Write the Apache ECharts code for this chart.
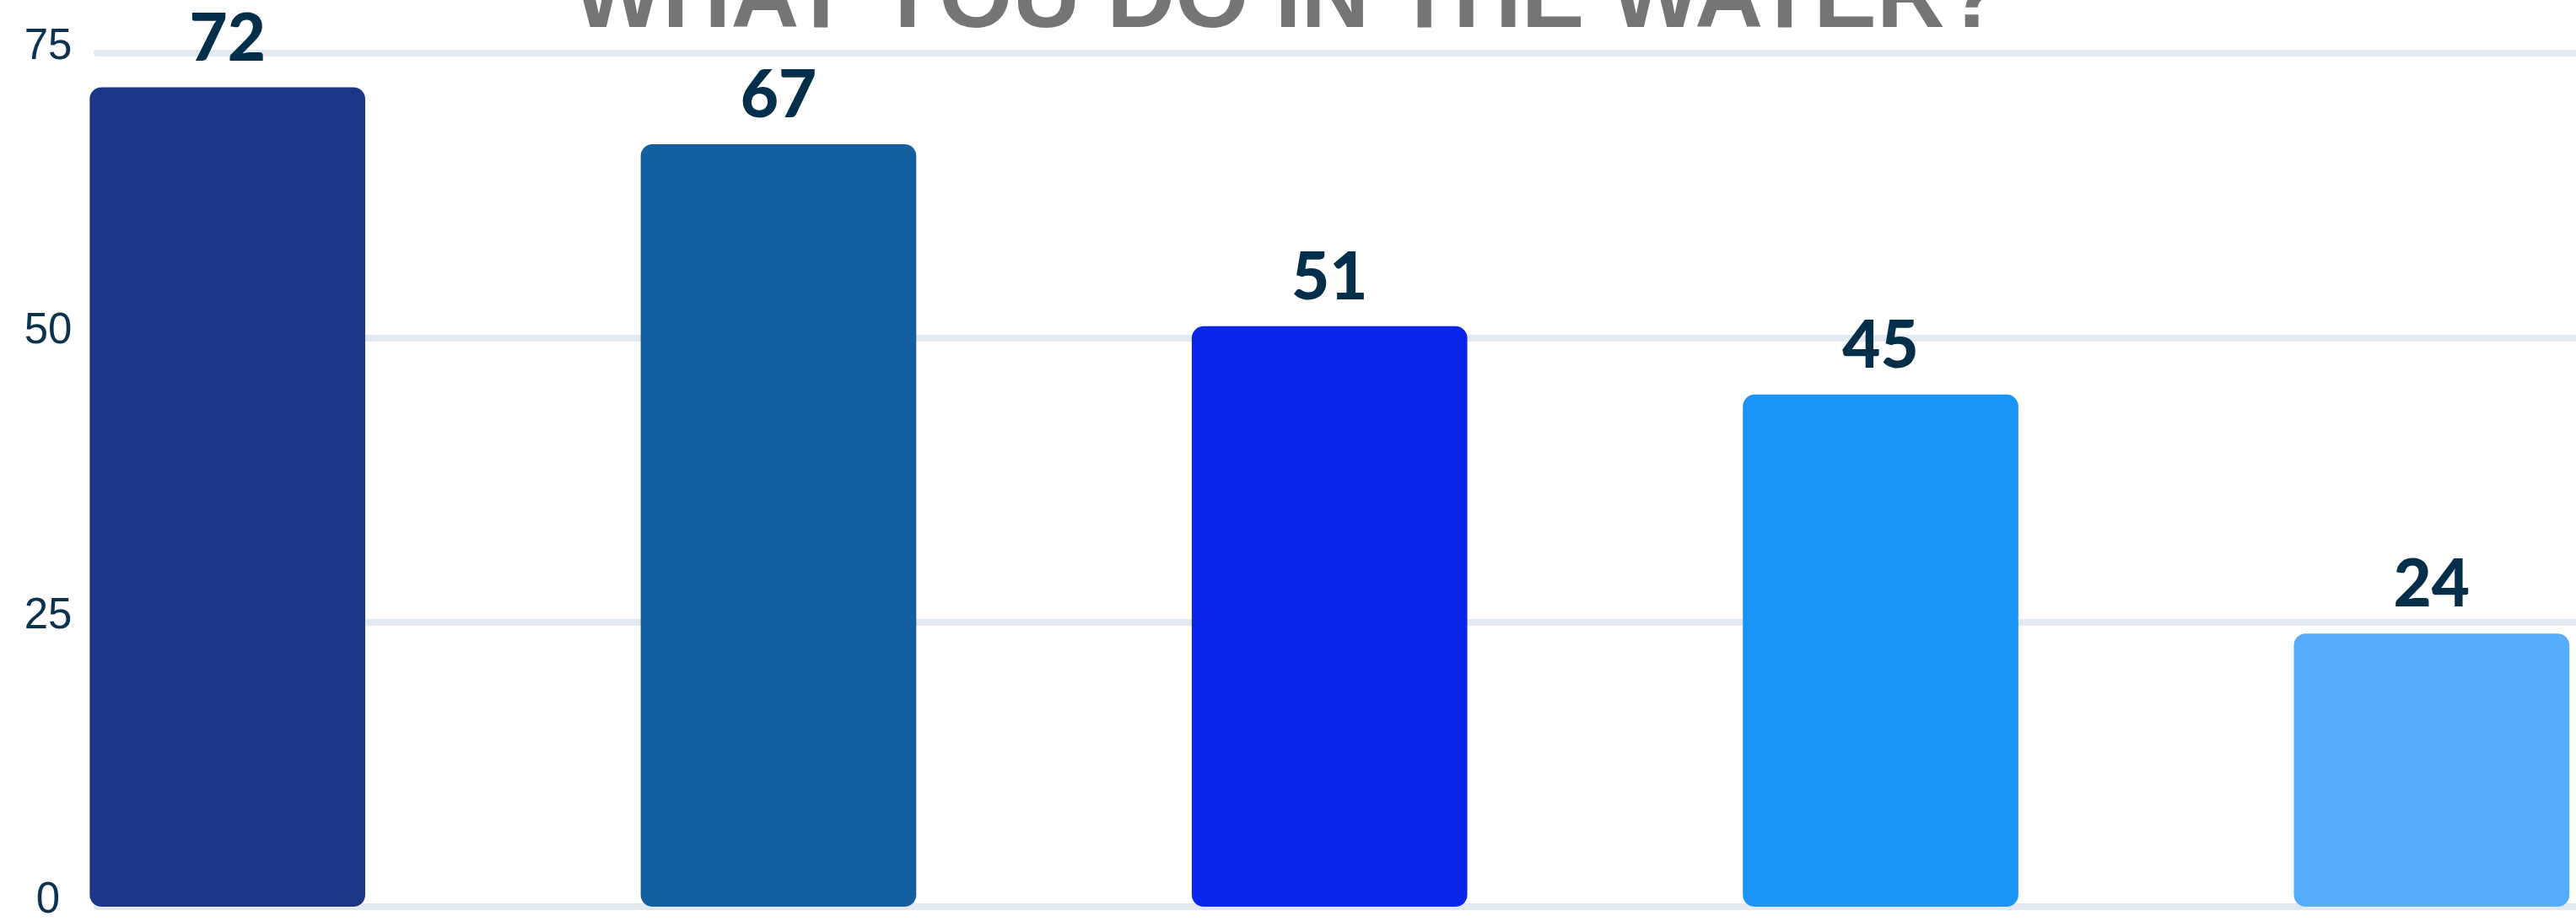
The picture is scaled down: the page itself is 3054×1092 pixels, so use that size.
<!DOCTYPE html>
<html>
<head>
<meta charset="utf-8">
<script src="https://cdn.jsdelivr.net/npm/echarts@6/dist/echarts.min.js"></script>
<style>
html,body{margin:0;padding:0;background:#fff;}
#chart{width:3054px;height:1092px;}
</style>
</head>
<body>
<div id="chart"></div>
<script>
const titleText = 'WHAT YOU DO IN THE WATER?';
const categories = ['Activity 1', 'Activity 2', 'Activity 3', 'Activity 4', 'Activity 5'];
const values = [72, 67, 51, 45, 24];
const barColors = ['#1c3687', '#155ea0', '#0b26eb', '#1a94f7', '#55adfb'];
const yTicks = [0, 25, 50, 75];

const chart = echarts.init(document.getElementById('chart'));
const yMin = yTicks[0], yMax = yTicks[yTicks.length - 1], yStep = yTicks[1] - yTicks[0];

chart.setOption({
  backgroundColor: '#ffffff',
  animation: false,
  title: {
    text: titleText,
    left: 'center',
    top: -55,
    padding: [0, 0, 0, 22],
    textStyle: {
      fontFamily: 'Liberation Sans, Arial, sans-serif',
      fontWeight: 'bold',
      fontSize: 112,
      lineHeight: 112,
      color: '#757575'
    }
  },
  grid: [
    { left: 115, right: -20, top: 63, bottom: 17, containLabel: false, outerBoundsMode: 'none' },
    { left: -57, width: 3266.5, top: 63, bottom: 17, containLabel: false, outerBoundsMode: 'none' }
  ],
  xAxis: [
    { type: 'category', gridIndex: 0, data: categories, show: false },
    { type: 'category', gridIndex: 1, data: categories, show: false }
  ],
  yAxis: [
    {
      type: 'value', gridIndex: 0, min: yMin, max: yMax, interval: yStep,
      axisLine: { show: false }, axisTick: { show: false },
      axisLabel: {
        margin: 58, align: 'center',
        verticalAlign: 'bottom', lineHeight: 14,
        fontFamily: 'Liberation Sans, Arial, sans-serif',
        fontSize: 51, color: '#0b3350'
      },
      splitLine: { show: true, lineStyle: { color: '#e2e9f1', width: 8, cap: 'round' } }
    },
    {
      type: 'value', gridIndex: 1, min: yMin, max: yMax, interval: yStep,
      show: false, splitLine: { show: false }
    }
  ],
  series: [{
    type: 'bar',
    xAxisIndex: 1, yAxisIndex: 1,
    barWidth: '50%',
    data: values.map((v, i) => ({ value: v, itemStyle: { color: barColors[i] } })),
    itemStyle: { borderRadius: 14 },
    label: {
      show: true, position: 'top', distance: 18,
      fontFamily: 'Lato, sans-serif', fontWeight: 900, fontSize: 78,
      color: '#032f4b'
    }
  }]
});
</script>
</body>
</html>
